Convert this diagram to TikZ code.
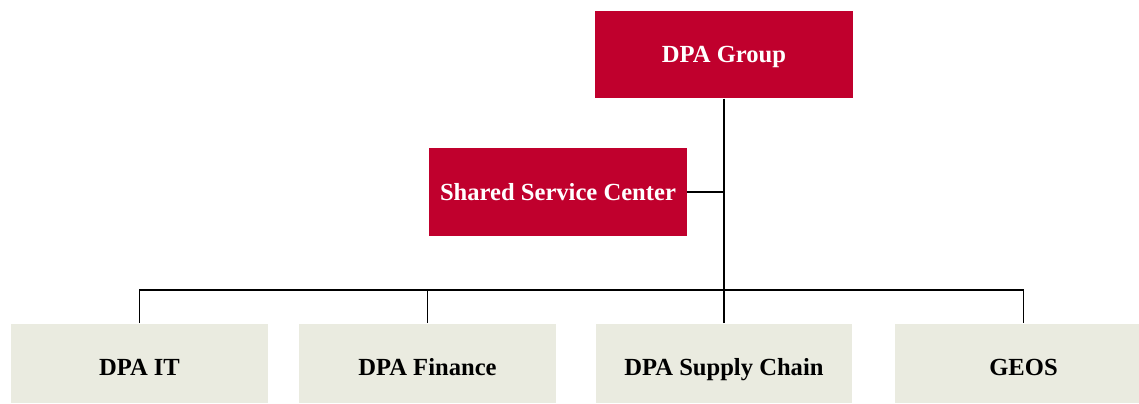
\documentclass[tikz,border=0pt]{standalone}
\usepackage{fontspec}
\setmainfont{Liberation Serif}
\usepackage{tikz}
\usetikzlibrary{positioning}
\usetikzlibrary{calc}

\definecolor{dpared}{RGB}{192,0,45}
\definecolor{dpabeige}{RGB}{234,235,224}

\begin{document}
\begin{tikzpicture}
  [x=0.02cm,y=-0.02cm,
  redbox/.style={rectangle,fill=dpared,text=white,font=\fontsize{14}{16}\selectfont\bfseries,minimum width=5.16cm,minimum height=1.75cm,inner sep=0pt,text height=9.3pt,text depth=0pt},
  greybox/.style={rectangle,fill=dpabeige,text=black,font=\fontsize{14}{16}\selectfont\bfseries,minimum width=5.14cm,minimum height=1.58cm,inner sep=0pt,text height=14.4pt,text depth=0pt},
  link/.style={black,line width=1pt}]
  \path[use as bounding box,clip] (0,0) rectangle (1139,403);

  \node[redbox] (group) at (724,54.5) {DPA Group};
  \node[redbox] (ssc) at (558,192) {Shared Service Center};

  \node[greybox] (it) at (139.5,363) {DPA IT};
  \node[greybox] (finance) at (427.5,363) {DPA Finance};
  \node[greybox] (supply) at (724,363) {DPA Supply Chain};
  \node[greybox] (geos) at (1023.5,363) {GEOS};

  \coordinate (hub) at (724,290);

  \draw [link] (group.south) -- (hub);
  \draw [link] (ssc.east) -- (ssc.east -| group.south);
  \draw [link] (it.north) |- (hub) -| (geos.north);
  \draw [link] (finance.north) -- (finance.north |- hub);
  \draw [link] (supply.north) -- (hub);

\end{tikzpicture}
\end{document}
